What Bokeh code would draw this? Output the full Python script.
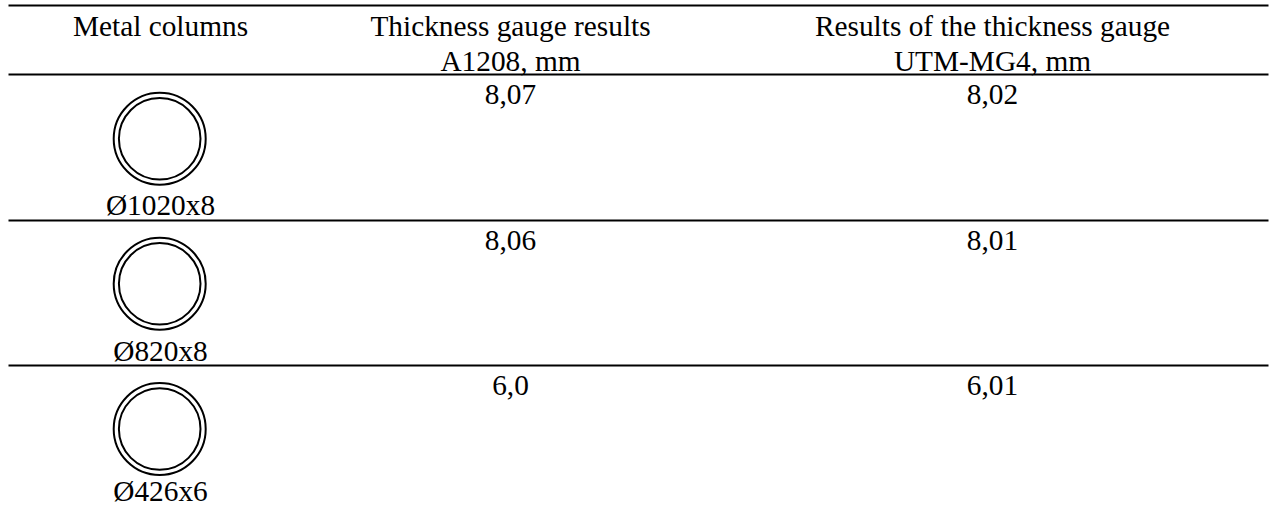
from bokeh.plotting import figure
from bokeh.models import Range1d, ColumnDataSource
from bokeh.core.properties import value
from bokeh.embed import file_html
from bokeh.resources import INLINE

headers = ["Metal columns", "Thickness gauge results", "Results of the thickness gauge"]
headers2 = ["", "A1208, mm", "UTM-MG4, mm"]
columns = ["Ø1020x8", "Ø820x8", "Ø426x6"]
a1208 = ["8,07", "8,06", "6,0"]
utm = ["8,02", "8,01", "6,01"]

W, H = 1269, 508
FONT = value("Liberation Serif")
FS = "29.33px"
col_x = [160, 510, 992]
rule_y = [5, 74, 220, 365]
rule_left, rule_right = 8, 1268
row_value_y = [93.5, 240, 385]
row_label_y = [204, 350, 490]
row_circle_y = [138.3, 283.3, 428.5]
circle_x = 159.2
r_outer, r_inner = 46, 40.8

p = figure(width=W, height=H, output_backend="svg", toolbar_location=None,
           x_range=Range1d(0, W), y_range=Range1d(H, 0),
           min_border=0, outline_line_color=None, background_fill_color="white",
           border_fill_color="white", x_axis_type=None, y_axis_type=None)
p.grid.visible = False

for y in rule_y:
    p.line([rule_left, rule_right], [y, y], line_color="black", line_width=2)

for r in (r_outer, r_inner):
    p.circle(x=[circle_x] * 3, y=row_circle_y, radius=r, fill_color=None,
             line_color="black", line_width=2)


def put(xs, ys, texts):
    src = ColumnDataSource(dict(x=xs, y=ys, t=texts))
    p.text(x="x", y="y", text="t", source=src, text_font=FONT, text_font_size=FS,
           text_color="black", text_align="center", text_baseline="alphabetic")


put(col_x, [25] * 3, headers)
put(col_x[1:], [60] * 2, headers2[1:])
put([col_x[1]] * 3, row_value_y, a1208)
put([col_x[2]] * 3, row_value_y, utm)
put([col_x[0]] * 3, row_label_y, columns)

html = file_html(p, INLINE).replace("<head>", "<head><style>html,body{margin:0;padding:0;overflow:hidden}</style>", 1)
open("out.html", "w").write(html)
